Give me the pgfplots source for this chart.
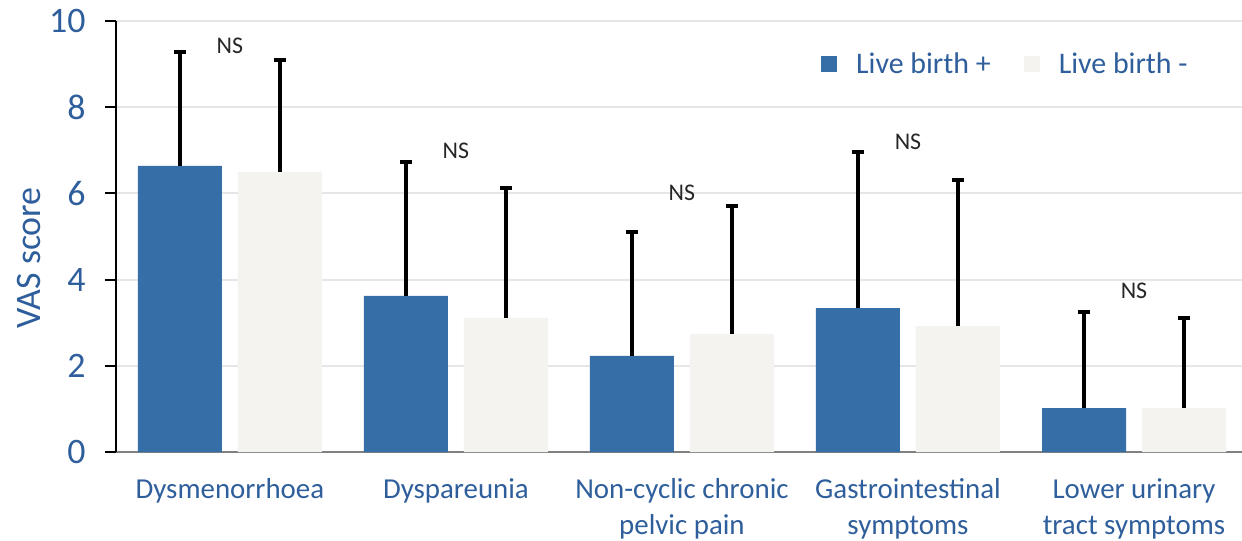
\documentclass[border=0pt]{standalone}
\usepackage{pgfplots}
\pgfplotsset{compat=1.18}
\usepackage{fontspec}
\setmainfont{Carlito}
\definecolor{barblue}{HTML}{366EA7}
\definecolor{barlight}{HTML}{F4F3EF}
\definecolor{textblue}{HTML}{2E5E9B}
\definecolor{gridgray}{HTML}{E6E6E6}
\definecolor{axisgray}{HTML}{808080}
\definecolor{nsgray}{HTML}{262626}
\begin{document}
\begin{tikzpicture}
\useasboundingbox (-116bp,-89bp) rectangle (1126bp,452bp);
\begin{axis}[
  at={(0,0)}, anchor=south west,
  scale only axis, width=1126bp, height=431bp,
  xmin=-0.504, xmax=4.478, ymin=0, ymax=10,
  ybar=16bp, bar width=84bp,
  axis x line*=bottom, axis y line*=left,
  x axis line style={axisgray, line width=2bp, -},
  y axis line style={black, line width=2bp, -},
  ymajorgrids, major grid style={gridgray, line width=2bp},
  ytick={0,2,4,6,8,10},
  tick align=outside, major tick length=11bp,
  ytick style={black, line width=2bp},
  xtick={0,1,2,3,4},
  xtick style={draw=none},
  xticklabels={Dysmenorrhoea, Dyspareunia, {Non-cyclic chronic\\pelvic pain}, {Gastrointestinal\\symptoms}, {Lower urinary\\tract symptoms}},
  xticklabel style={align=center, anchor=north, text=textblue, font=\fontsize{29}{36}\selectfont, yshift=-12bp},
  /pgf/number format/assume math mode=true,
  yticklabel style={text=textblue, font=\fontsize{36}{42}\selectfont, xshift=-16bp},
  ylabel={VAS score},
  every axis y label/.style={at={(axis description cs:-0.0773,0.45)}, rotate=90, anchor=center, text=textblue, font=\fontsize{36}{42}\selectfont},
  legend columns=2,
  legend style={at={(0.6234,0.900)}, anchor=west, draw=none, fill=none,
    font=\fontsize{30}{36}\selectfont, text=textblue,
    /tikz/every even column/.append style={column sep=33bp},
    /tikz/every odd column/.append style={column sep=19bp},
    nodes={inner sep=0pt}},
]
\addplot[fill=barblue, draw=none,
  legend image code/.code={\fill[barblue] (0bp,-8bp) rectangle (16bp,8bp);},
  error bars/.cd, y dir=plus, y explicit,
  error bar style={line width=4bp, black},
  error mark options={black, line width=4bp, mark size=6bp, rotate=90}]
  coordinates {
  (0,6.64) +- (0,2.64)
  (1,3.62) +- (0,3.11)
  (2,2.23) +- (0,2.87)
  (3,3.34) +- (0,3.62)
  (4,1.02) +- (0,2.23)
  };
\addplot[fill=barlight, draw=none,
  legend image code/.code={\fill[barlight] (0bp,-8bp) rectangle (16bp,8bp);},
  error bars/.cd, y dir=plus, y explicit,
  error bar style={line width=4bp, black},
  error mark options={black, line width=4bp, mark size=6bp, rotate=90}]
  coordinates {
  (0,6.50) +- (0,2.60)
  (1,3.11) +- (0,3.02)
  (2,2.74) +- (0,2.97)
  (3,2.92) +- (0,3.39)
  (4,1.02) +- (0,2.09)
  };
\legend{Live birth +, Live birth -}
\node[font=\fontsize{24}{28}\selectfont, text=nsgray] at (axis cs:0,9.42) {NS};
\node[font=\fontsize{24}{28}\selectfont, text=nsgray] at (axis cs:1,6.98) {NS};
\node[font=\fontsize{24}{28}\selectfont, text=nsgray] at (axis cs:2,6.01) {NS};
\node[font=\fontsize{24}{28}\selectfont, text=nsgray] at (axis cs:3,7.19) {NS};
\node[font=\fontsize{24}{28}\selectfont, text=nsgray] at (axis cs:4,3.74) {NS};
\end{axis}
\end{tikzpicture}
\end{document}
